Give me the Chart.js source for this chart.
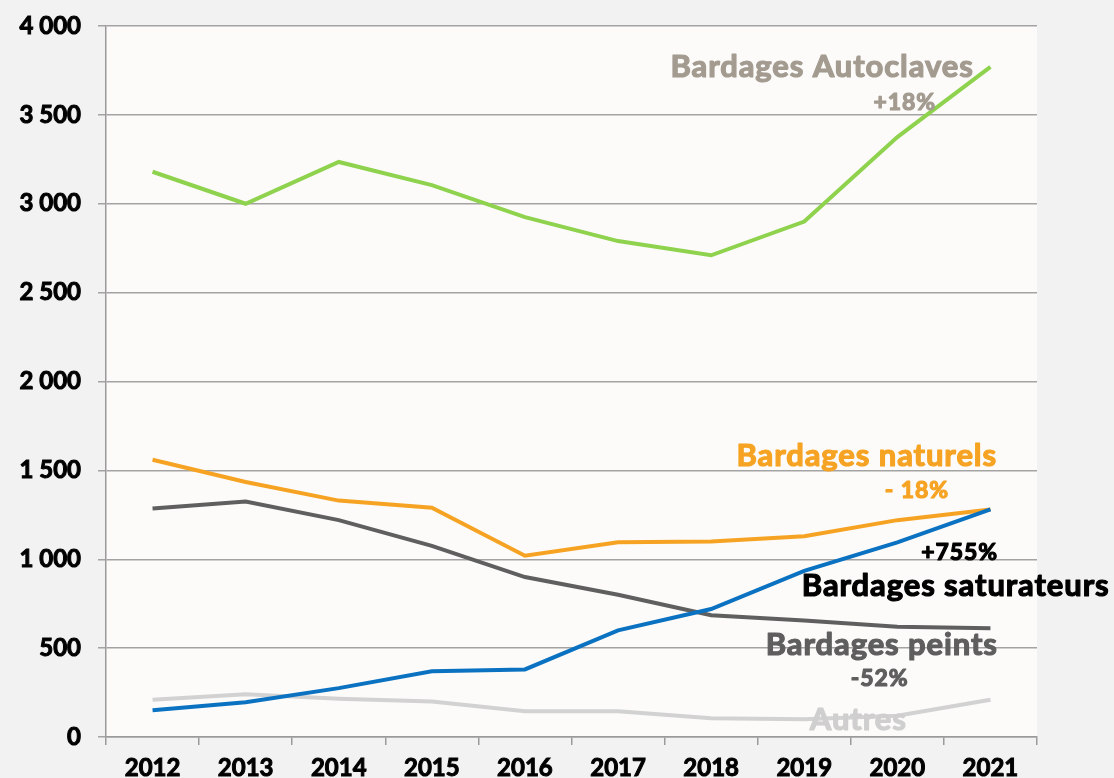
<!DOCTYPE html>
<html lang="fr">
<head>
<meta charset="utf-8">
<title>Bardages</title>
<script src="https://cdn.jsdelivr.net/npm/chart.js@4.4.1/dist/chart.umd.min.js"></script>
<style>
    html, body { margin: 0; padding: 0; background: #f2f2f2; }
    #cadre { width: 1114px; height: 778px; position: relative; }
</style>
</head>
<body>
<div id="cadre"><canvas id="grafico"></canvas></div>
<script>
// ------------------------------ Datos ------------------------------
const annees = ["2012", "2013", "2014", "2015", "2016", "2017", "2018", "2019", "2020", "2021"];
const autoclaves = [3180, 3000, 3235, 3105, 2925, 2790, 2710, 2900, 3375, 3770];
const naturels = [1560, 1435, 1330, 1290, 1020, 1095, 1100, 1130, 1220, 1280];
const peints = [1285, 1325, 1220, 1075, 900, 800, 685, 655, 620, 612];
const saturateurs = [150, 195, 275, 370, 380, 600, 720, 935, 1095, 1280];
const autres = [210, 240, 215, 200, 145, 145, 105, 100, 120, 210];
const ticksY = [0, 500, 1000, 1500, 2000, 2500, 3000, 3500, 4000];

const police = "Lato, 'Open Sans', sans-serif";

// Etiquetas de texto sobre el gráfico (posición en unidades de los ejes)
const etiquetas = [
    { texte: "Bardages Autoclaves", x: 8.82, y: 3767, couleur: "#a39b90", taille: 31, align: "right" },
    { texte: "+18%", x: 8.08, y: 3570, couleur: "#a39b90", taille: 23, align: "center" },
    { texte: "Bardages naturels", x: 9.07, y: 1582, couleur: "#f6a323", taille: 31, align: "right" },
    { texte: "- 18%", x: 8.21, y: 1385, couleur: "#f6a323", taille: 23, align: "center" },
    { texte: "+755%", x: 9.08, y: 1036, couleur: "#000000", taille: 23, align: "right" },
    { texte: "Bardages saturateurs", x: 10.28, y: 850, couleur: "#000000", taille: 31, align: "right" },
    { texte: "Bardages peints", x: 9.08, y: 518, couleur: "#5e5e5e", taille: 31, align: "right" },
    { texte: "-52%", x: 7.81, y: 327, couleur: "#5e5e5e", taille: 23, align: "center" },
    { texte: "Autres", x: 7.58, y: 96, couleur: "#cfcfcf", taille: 31, align: "center" }
];

function formatMilliers(v) {
    return String(v).replace(/\B(?=(\d{3})+(?!\d))/g, " ");
}

// Fondo blanco del área del gráfico
const fondoZona = {
    id: "fondoZona",
    beforeDraw(chart) {
        const { ctx, chartArea } = chart;
        ctx.save();
        ctx.fillStyle = "#fcfbf9";
        ctx.fillRect(chartArea.left, chartArea.top, chartArea.right - chartArea.left, chartArea.bottom - chartArea.top);
        ctx.restore();
    }
};

// Textos de las series (trazo fino para engrosar la letra)
const textos = {
    id: "textos",
    afterDatasetsDraw(chart) {
        const { ctx } = chart;
        const sx = chart.scales.x;
        const sy = chart.scales.y;
        ctx.save();
        ctx.textBaseline = "middle";
        ctx.letterSpacing = "0.9px";
        ctx.lineJoin = "round";
        etiquetas.forEach(e => {
            const px = sx.getPixelForValue(e.x);
            const py = sy.getPixelForValue(e.y);
            ctx.font = `bold ${e.taille}px ${police}`;
            ctx.fillStyle = e.couleur;
            ctx.strokeStyle = e.couleur;
            ctx.lineWidth = 1.2;
            ctx.textAlign = e.align;
            ctx.strokeText(e.texte, px, py);
            ctx.fillText(e.texte, px, py);
        });
        ctx.restore();
    }
};

function serie(donnees, couleur) {
    return {
        data: donnees,
        borderColor: couleur,
        backgroundColor: couleur,
        borderWidth: 4,
        pointRadius: 0,
        tension: 0,
        fill: false
    };
}

const ctx = document.getElementById("grafico").getContext("2d");

new Chart(ctx, {
    type: "line",
    data: {
        labels: annees,
        datasets: [
            serie(saturateurs, "#0b72c2"),
            serie(autoclaves, "#8ed24d"),
            serie(naturels, "#f6a323"),
            serie(peints, "#5f5f5f"),
            serie(autres, "#d2d2d2")
        ]
    },
    options: {
        responsive: true,
        maintainAspectRatio: false,
        animation: false,
        layout: { padding: { top: 26, right: 77, left: 0, bottom: 0 } },
        plugins: {
            legend: { display: false },
            tooltip: { enabled: false }
        },
        scales: {
            x: {
                offset: true,
                afterFit: (scale) => { scale.height = 41; },
                grid: {
                    offset: true,
                    drawOnChartArea: false,
                    drawTicks: true,
                    tickLength: 8,
                    color: "#9a9a9a",
                    lineWidth: 1.5
                },
                border: { color: "#9a9a9a", width: 1.5 },
                ticks: {
                    color: "#000000",
                    textStrokeColor: "#000000",
                    textStrokeWidth: 1,
                    padding: 9,
                    maxRotation: 0,
                    font: { family: police, size: 24, weight: "bold" }
                }
            },
            y: {
                min: 0,
                max: 4000,
                afterFit: (scale) => {
                    scale.width = 106;
                    scale.paddingTop = 0;
                    scale.paddingBottom = 0;
                },
                afterBuildTicks: (scale) => { scale.ticks = ticksY.map(v => ({ value: v })); },
                grid: {
                    drawTicks: true,
                    tickLength: 8,
                    color: "#a3a3a3",
                    lineWidth: 1.5
                },
                border: { color: "#9a9a9a", width: 1.5 },
                ticks: {
                    color: "#000000",
                    textStrokeColor: "#000000",
                    textStrokeWidth: 1,
                    padding: 17,
                    font: { family: police, size: 24, weight: "bold" },
                    callback: (v) => formatMilliers(v)
                }
            }
        }
    },
    plugins: [fondoZona, textos]
});
</script>
</body>
</html>
